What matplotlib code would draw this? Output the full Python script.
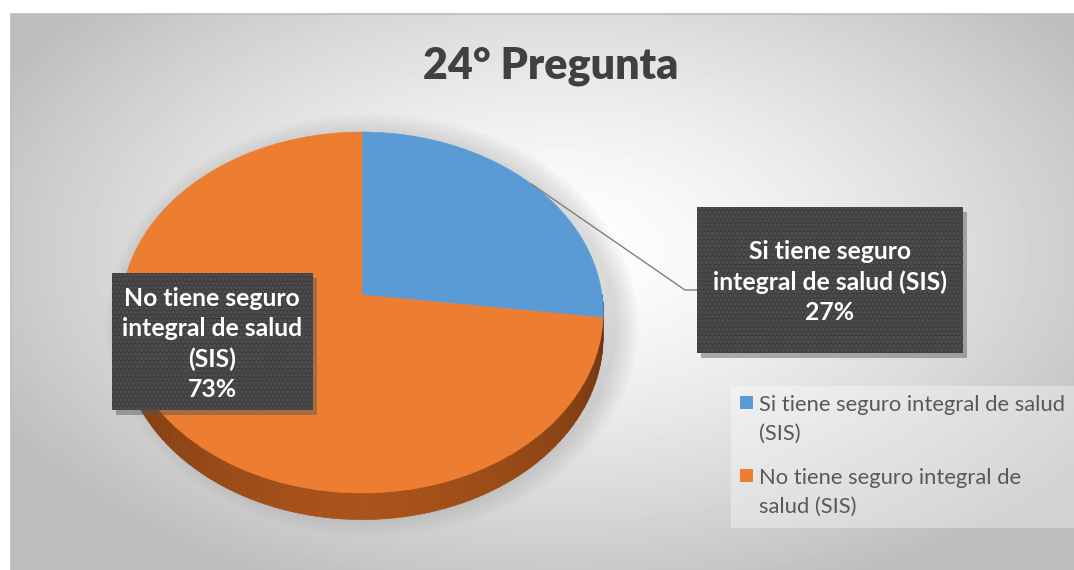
import matplotlib
matplotlib.use("Agg")
import matplotlib.pyplot as plt
import matplotlib.transforms as mtransforms
from matplotlib.patches import Wedge, Rectangle, Ellipse
from matplotlib.collections import PolyCollection
from matplotlib.colors import to_rgb
import numpy as np

plt.rcParams["font.family"] = ["Lato", "DejaVu Sans"]
plt.rcParams["hatch.linewidth"] = 1.6

TITLE = "24° Pregunta"
CATEGORIES = ["Si tiene seguro integral de salud (SIS)",
              "No tiene seguro integral de salud (SIS)"]
VALUES = [27, 73]
COLORS = ["#5B9BD5", "#ED7D31"]
SIDE_COLORS = [("#4A8BC8", "#2F6496"), ("#AA531A", "#66300E")]
BOX_TEXT = ["Si tiene seguro\nintegral de salud (SIS)\n27%",
            "No tiene seguro\nintegral de salud\n(SIS)\n73%"]
LEGEND_TEXT = ["Si tiene seguro integral de salud\n(SIS)",
               "No tiene seguro integral de\nsalud (SIS)"]

W, H = 1074, 570
# pie geometry in pixels (perspective projection of a unit disc)
CX, CY, RX, RY, PERSP, DEPTH = 362, 295, 240, 178.8, 0.097, 24


def proj(u, v, drop=0.0):
    d = 1.0 / (1.0 + PERSP * v)
    return CX + RX * u * d, CY - RY * v * d + drop * d


class PieProjection(mtransforms.Transform):
    input_dims = output_dims = 2

    def transform_non_affine(self, values):
        values = np.asarray(values, dtype=float)
        x, y = proj(values[:, 0], values[:, 1])
        return np.column_stack([x, y])


fig = plt.figure(figsize=(W / 100, H / 100), dpi=100)
ax = fig.add_axes([0, 0, 1, 1])
ax.set_xlim(0, W)
ax.set_ylim(H, 0)
ax.axis("off")

# background: radial gray gradient inside the chart frame
x0, y0 = 11, 14
gx, gy = np.meshgrid(np.arange(x0, W), np.arange(y0, H))
r = np.sqrt(((gx - 560) / 620.0) ** 2 + ((gy - 250) / 360.0) ** 2)
shade = np.clip(1.0 - 0.25 * r ** 1.4, 0.74, 1.0)
ax.imshow(shade, cmap="gray", vmin=0, vmax=1, extent=(x0, W, H, y0),
          interpolation="bilinear", zorder=0)
ax.plot([x0, x0, W], [H, y0, y0], color="#bdbdbd", lw=1.2, zorder=1)

# soft shadow under the pie
for k in range(8):
    ax.add_patch(Ellipse((372, 325), 2 * RX + 10 + 6 * k, 2 * 190 + 6 * k,
                         color="#7a7a7a", alpha=0.035, lw=0, zorder=1))

# slice angles (clockwise from 12 o'clock)
total = float(sum(VALUES))
starts, ends = [], []
a = 90.0
for val in VALUES:
    starts.append(a - 360.0 * val / total)
    ends.append(a)
    a -= 360.0 * val / total

# side of the pie (front half only)
polys, cols = [], []
for (s, e), (c_mid, c_dark) in zip(zip(starts, ends), SIDE_COLORS):
    th = np.radians(np.linspace(s, min(e, 0.0), 140))
    for t1, t2 in zip(th[:-1], th[1:]):
        if np.sin(t1) > 0 and np.sin(t2) > 0:
            continue
        xa, ya = proj(np.cos(t1), np.sin(t1))
        xb, yb = proj(np.cos(t2), np.sin(t2))
        xc, yc = proj(np.cos(t2), np.sin(t2), DEPTH)
        xd, yd = proj(np.cos(t1), np.sin(t1), DEPTH)
        polys.append([(xa, ya), (xb, yb), (xc, yc), (xd, yd)])
        f = abs(np.degrees((t1 + t2) / 2) % 360 - 270) / 90.0
        f = min(f, 1.0) ** 1.4
        cm, cd = np.array(to_rgb(c_mid)), np.array(to_rgb(c_dark))
        cols.append(tuple(cm * (1 - f) + cd * f))
ax.add_collection(PolyCollection(polys, facecolors=cols, edgecolors=cols,
                                 linewidths=0.5, zorder=2))

# top face
pie_tr = PieProjection() + ax.transData
for s, e, c in zip(starts, ends, COLORS):
    ax.add_patch(Wedge((0, 0), 1.0, s, e, facecolor=c, edgecolor=c,
                       lw=0.4, transform=pie_tr, zorder=3))

# leader line for first slice
mid = np.radians((starts[0] + ends[0]) / 2)
lx, ly = proj(np.cos(mid), np.sin(mid))
ax.plot([lx, 685, 697], [ly, 290, 290], color="#7f7f7f", lw=1.0, zorder=4)

# label boxes
boxes = [(697, 207, 266, 146, 830, 282), (112, 273, 201, 137, 212, 344)]
for (bx, by, bw, bh, tx, ty), txt in zip(boxes, BOX_TEXT):
    ax.add_patch(Rectangle((bx + 4, by + 5), bw, bh, color="#555555",
                           alpha=0.45, lw=0, zorder=5))
    ax.add_patch(Rectangle((bx, by), bw, bh, facecolor="#3f3f3f",
                           edgecolor="none", lw=0, zorder=6))
    ax.add_patch(Rectangle((bx, by), bw, bh, facecolor="none",
                           edgecolor="#525252", hatch="....", lw=0, zorder=6))
    ax.text(tx, ty, txt, ha="center", va="center", color="white",
            fontsize=17.8, fontweight="bold", linespacing=1.36, zorder=7)

# title
ax.text(551, 66, TITLE, ha="center", va="center", color="#404040",
        fontsize=31, fontweight="heavy", zorder=7)

# legend
ax.add_patch(Rectangle((731, 386), W - 731, 142, color="white", alpha=0.35,
                       lw=0, zorder=2))
for i, (lab, c) in enumerate(zip(LEGEND_TEXT, COLORS)):
    ty = 403 + i * 73
    ax.add_patch(Rectangle((740, ty - 7), 13, 13, color=c, lw=0, zorder=7))
    ax.text(759, ty - 8, lab, ha="left", va="top", color="#595959",
            fontsize=15.8, linespacing=1.55, zorder=7)

fig.savefig("out.png", dpi=100)
